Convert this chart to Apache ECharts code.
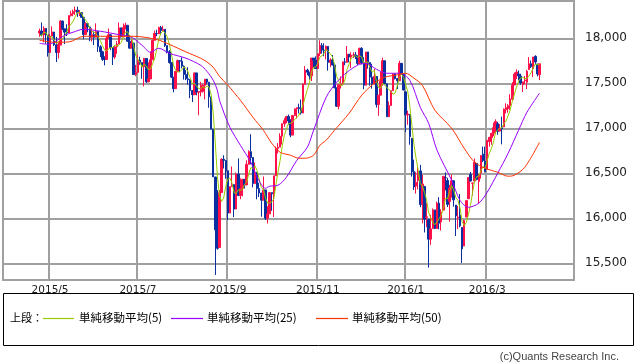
<!DOCTYPE html>
<html><head><meta charset="utf-8">
<script src="https://cdn.jsdelivr.net/npm/echarts@6/dist/echarts.min.js"></script>
<style>html,body{margin:0;padding:0;background:#fff}#c{width:638px;height:362px}</style>
</head><body><div id="c"></div>
<script>
const dates = ['2015/4/24','2015/4/27','2015/4/28','2015/4/29','2015/4/30',
'2015/5/1','2015/5/4','2015/5/5','2015/5/6','2015/5/7','2015/5/8','2015/5/11','2015/5/12','2015/5/13','2015/5/14','2015/5/15','2015/5/18','2015/5/19','2015/5/20','2015/5/21','2015/5/22','2015/5/26','2015/5/27','2015/5/28','2015/5/29',
'2015/6/1','2015/6/2','2015/6/3','2015/6/4','2015/6/5','2015/6/8','2015/6/9','2015/6/10','2015/6/11','2015/6/12','2015/6/15','2015/6/16','2015/6/17','2015/6/18','2015/6/19','2015/6/22','2015/6/23','2015/6/24','2015/6/25','2015/6/26','2015/6/29','2015/6/30',
'2015/7/1','2015/7/2','2015/7/6','2015/7/7','2015/7/8','2015/7/9','2015/7/10','2015/7/13','2015/7/14','2015/7/15','2015/7/16','2015/7/17','2015/7/20','2015/7/21','2015/7/22','2015/7/23','2015/7/24','2015/7/27','2015/7/28','2015/7/29','2015/7/30','2015/7/31',
'2015/8/3','2015/8/4','2015/8/5','2015/8/6','2015/8/7','2015/8/10','2015/8/11','2015/8/12','2015/8/13','2015/8/14','2015/8/17','2015/8/18','2015/8/19','2015/8/20','2015/8/21','2015/8/24','2015/8/25','2015/8/26','2015/8/27','2015/8/28','2015/8/31',
'2015/9/1','2015/9/2','2015/9/3','2015/9/4','2015/9/8','2015/9/9','2015/9/10','2015/9/11','2015/9/14','2015/9/15','2015/9/16','2015/9/17','2015/9/18','2015/9/21','2015/9/22','2015/9/23','2015/9/24','2015/9/25','2015/9/28','2015/9/29','2015/9/30',
'2015/10/1','2015/10/2','2015/10/5','2015/10/6','2015/10/7','2015/10/8','2015/10/9','2015/10/12','2015/10/13','2015/10/14','2015/10/15','2015/10/16','2015/10/19','2015/10/20','2015/10/21','2015/10/22','2015/10/23','2015/10/26','2015/10/27','2015/10/28','2015/10/29','2015/10/30',
'2015/11/2','2015/11/3','2015/11/4','2015/11/5','2015/11/6','2015/11/9','2015/11/10','2015/11/11','2015/11/12','2015/11/13','2015/11/16','2015/11/17','2015/11/18','2015/11/19','2015/11/20','2015/11/23','2015/11/24','2015/11/25','2015/11/27','2015/11/30',
'2015/12/1','2015/12/2','2015/12/3','2015/12/4','2015/12/7','2015/12/8','2015/12/9','2015/12/10','2015/12/11','2015/12/14','2015/12/15','2015/12/16','2015/12/17','2015/12/18','2015/12/21','2015/12/22','2015/12/23','2015/12/24','2015/12/28','2015/12/29','2015/12/30','2015/12/31',
'2016/1/4','2016/1/5','2016/1/6','2016/1/7','2016/1/8','2016/1/11','2016/1/12','2016/1/13','2016/1/14','2016/1/15','2016/1/19','2016/1/20','2016/1/21','2016/1/22','2016/1/25','2016/1/26','2016/1/27','2016/1/28','2016/1/29',
'2016/2/1','2016/2/2','2016/2/3','2016/2/4','2016/2/5','2016/2/8','2016/2/9','2016/2/10','2016/2/11','2016/2/12','2016/2/16','2016/2/17','2016/2/18','2016/2/19','2016/2/22','2016/2/23','2016/2/24','2016/2/25','2016/2/26','2016/2/29',
'2016/3/1','2016/3/2','2016/3/3','2016/3/4','2016/3/7','2016/3/8','2016/3/9','2016/3/10','2016/3/11','2016/3/14','2016/3/15','2016/3/16','2016/3/17','2016/3/18','2016/3/21','2016/3/22','2016/3/23','2016/3/24','2016/3/28','2016/3/29','2016/3/30','2016/3/31',
'2016/4/1','2016/4/4','2016/4/5','2016/4/6'];

const open = [18058,18080,18038,18110,18036,
17841,18024,18070,17928,17842,17924,18191,18105,18068,18060,18252,18272,18298,18312,18280,18285,18232,18041,18162,18126,
18011,18040,18011,18076,17905,17849,17766,17764,18000,18039,17898,17791,17905,17935,18116,18015,18120,18144,17966,17890,17947,17596,
17620,17758,17730,17684,17776,17515,17548,17760,17977,18053,18050,18120,18086,18100,17919,17851,17731,17568,17440,17631,17751,17745,
17690,17598,17550,17540,17419,17373,17615,17402,17403,17409,17477,17546,17512,17349,16990,16459,15872,15676,16285,16655,16643,
16528,16058,16351,16374,16102,16492,16254,16330,16433,16370,16599,16740,16675,16385,16511,16330,16280,16201,16315,16001,16049,
16285,16272,16472,16776,16790,16912,17050,17084,17131,17081,16924,17141,17216,17230,17217,17169,17489,17646,17623,17582,17780,17756,
17664,17829,17919,17868,17864,17910,17731,17759,17703,17449,17245,17484,17490,17738,17733,17824,17792,17813,17815,17798,
17720,17888,17730,17478,17848,17730,17568,17493,17575,17265,17368,17525,17750,17495,17128,17252,17418,17603,17553,17528,17721,17604,
17405,17147,17154,16889,16519,16358,16420,16526,16159,16354,16009,15989,15768,15885,16093,15886,16168,15960,16090,
16451,16420,16186,16329,16417,16147,16005,16035,15897,15691,16013,16217,16487,16389,16413,16610,16410,16502,16712,16634,
16545,16851,16896,16945,16991,17050,16969,17006,17014,17207,17217,17251,17321,17481,17590,17602,17580,17485,17527,17512,17652,17716,
17661,17799,17713,17594];

const close = [18080,18038,18110,18036,17841,
18024,18070,17928,17842,17924,18191,18105,18068,18060,18252,18272,18298,18312,18285,18285,18232,18041,18162,18126,18011,
18040,18011,18076,17905,17849,17766,17764,18000,18039,17898,17791,17905,17935,18116,18015,18120,18144,17966,17890,17947,17596,17620,
17758,17730,17684,17776,17515,17548,17760,17977,18053,18050,18120,18086,18100,17919,17851,17731,17568,17440,17631,17751,17745,17690,
17598,17550,17540,17419,17373,17615,17402,17403,17409,17477,17546,17512,17349,16990,16460,15871,15666,16285,16655,16643,16528,
16058,16351,16374,16102,16492,16254,16330,16433,16370,16599,16740,16675,16385,16511,16330,16280,16201,16315,16001,16049,16285,
16272,16472,16776,16790,16912,17050,17084,17131,17081,16924,17141,17216,17230,17217,17169,17489,17646,17623,17582,17780,17756,17664,
17829,17919,17868,17864,17910,17731,17759,17703,17449,17245,17484,17490,17738,17733,17824,17792,17813,17813,17798,17720,
17888,17730,17478,17848,17730,17568,17493,17575,17265,17368,17525,17750,17495,17128,17252,17418,17603,17553,17528,17721,17604,17425,
17149,17159,16907,16515,16347,16399,16516,16152,16380,15988,16016,15767,15883,16094,15886,16168,15945,16070,16466,
16450,16154,16337,16417,16205,16027,16014,15915,15660,15974,16196,16454,16414,16392,16620,16432,16485,16698,16640,16517,
16866,16900,16944,17007,17074,16964,17001,16996,17213,17230,17251,17326,17481,17602,17624,17583,17503,17516,17536,17634,17717,17685,
17792,17737,17603,17716];

const low = [18015,18020,17955,17940,17796,
17841,18024,17914,17736,17775,17924,18090,17935,18025,18060,18241,18245,18260,18237,18247,18225,17990,18041,18067,17967,
17964,17925,18011,17850,17792,17748,17699,17764,18000,17867,17703,17770,17827,17935,18008,18015,18098,17965,17888,17890,17593,17579,
17620,17705,17550,17466,17504,17515,17548,17760,17977,18023,18050,18045,18086,17903,17832,17718,17559,17400,17440,17631,17623,17666,
17541,17536,17483,17334,17291,17373,17366,17145,17354,17396,17321,17488,17228,16990,16459,15370,15651,15676,16285,16553,16440,
15980,16058,16351,16013,16102,16245,16212,16244,16331,16370,16599,16600,16343,16385,16211,16236,16017,16201,15981,15942,16049,
16083,16013,16472,16720,16790,16819,17016,17057,17040,16900,16924,17141,17107,17164,17151,17169,17489,17590,17540,17525,17676,17663,
17664,17801,17830,17800,17765,17640,17679,17699,17447,17238,17210,17441,17490,17700,17733,17731,17670,17781,17768,17704,
17720,17711,17434,17478,17662,17473,17440,17493,17230,17138,17368,17470,17493,17128,17128,17252,17418,17541,17437,17528,17600,17422,
16957,17039,16817,16463,16314,16274,16320,16123,15944,15842,15900,15451,15704,15885,15880,15886,15878,15863,16090,
16310,16125,15961,16228,16129,15803,15881,15899,15503,15691,16013,16217,16408,16252,16413,16423,16165,16440,16624,16510,
16545,16795,16817,16912,16936,16928,16966,16821,17014,17165,17173,17205,17300,17481,17547,17532,17484,17403,17490,17436,17652,17670,
17569,17706,17577,17535];

const high = [18107,18175,18133,18110,18036,
18050,18133,18070,18015,17950,18200,18196,18105,18156,18253,18305,18319,18351,18350,18314,18286,18232,18178,18162,18126,
18112,18074,18165,18076,17923,17861,17800,18018,18109,18039,17898,17919,17967,18175,18116,18164,18173,18144,18032,17986,17947,17704,
17817,17795,17730,17783,17776,17733,17852,17980,18085,18095,18129,18138,18138,18100,17922,17868,17733,17568,17631,17764,17752,17789,
17698,17646,17678,17547,17419,17615,17615,17409,17515,17496,17546,17546,17512,17349,16990,16459,16312,16313,16666,16700,16643,
16528,16351,16575,16374,16509,16664,16444,16434,16433,16644,16755,16933,16675,16619,16511,16395,16280,16465,16315,16134,16285,
16285,16472,16797,16835,16944,17051,17116,17139,17152,17100,17142,17220,17230,17273,17320,17500,17690,17662,17623,17780,17780,17799,
17829,17977,17947,17944,17920,17910,17778,17814,17703,17449,17484,17575,17738,17780,17914,17824,17844,17844,17848,17810,
17895,17901,17789,17848,17848,17730,17716,17659,17575,17370,17627,17784,17750,17495,17298,17418,17603,17606,17553,17750,17721,17604,
17405,17195,17154,16889,16651,16513,16591,16593,16482,16354,16171,15989,16038,16109,16093,16185,16235,16102,16466,
16510,16449,16371,16486,16417,16147,16136,16270,15897,15982,16196,16455,16514,16392,16664,16610,16485,16698,16796,16795,
16866,16900,16944,17063,17099,17072,17048,17130,17220,17277,17268,17379,17512,17620,17655,17642,17606,17516,17581,17648,17790,17753,
17793,17811,17713,17716];

// 5-day moving average, one value per trading day
const ma5 = [18032,18033,18065,18064,18021,18010,18016,17980,17941,17958,17991,17998,18026,18070,18135,18151,18190,18239,18284,18290,
18282,18231,18201,18169,18114,18076,18070,18053,18009,17976,17921,17872,17857,17884,17893,17898,17927,17914,17929,17952,
18018,18066,18072,18027,18013,17909,17804,17762,17730,17678,17714,17693,17651,17657,17715,17771,17878,17992,18057,18082,
18055,18015,17937,17834,17702,17644,17624,17627,17651,17683,17667,17625,17559,17496,17499,17470,17442,17440,17461,17447,
17469,17459,17375,17171,16836,16467,16254,16187,16224,16355,16434,16447,16391,16283,16275,16315,16310,16322,16376,16397,
16494,16563,16554,16582,16528,16436,16341,16327,16225,16169,16170,16184,16216,16371,16519,16644,16800,16922,16993,17052,
17054,17072,17099,17118,17146,17195,17264,17350,17429,17502,17624,17677,17681,17722,17790,17807,17829,17878,17858,17826,
17793,17710,17577,17528,17474,17481,17538,17654,17715,17780,17795,17808,17787,17806,17790,17723,17733,17735,17671,17623,
17643,17526,17454,17445,17497,17481,17453,17430,17409,17379,17391,17471,17565,17602,17566,17485,17412,17249,17031,16815,
16665,16537,16386,16359,16287,16210,16061,16007,15950,15929,15960,15995,16033,16107,16220,16217,16295,16365,16313,16228,
16200,16116,15964,15918,15952,16040,16140,16286,16415,16462,16469,16525,16575,16554,16641,16724,16773,16847,16958,16978,
16998,17008,17050,17081,17138,17203,17300,17378,17457,17523,17559,17566,17552,17554,17581,17618,17673,17713,17707,17707];

// 25- and 50-day averages read at sample days (index into dates)
const ma25At = [0,4,7,12,16,21,29,37,44,49,53,57,62,70,77,80,83,85,86,91,96,101,104,108,110,114,118,123,128,131,137,142,147,152,156,161,166,172,177,182,186,190,197,201,205,210,214,219,224,229,233,239];
const ma25 = [17944,17933,17956,18033,18067,18100,18078,18044,18011,17922,17844,17889,17833,17778,17700,17633,17533,17422,17311,17011,16811,16622,16456,16333,16356,16367,16456,16644,16789,16978,17344,17511,17622,17700,17722,17656,17611,17611,17533,17233,17056,16756,16422,16200,16122,16167,16289,16500,16722,16978,17178,17389];
const ma50At = [0,7,14,21,29,45,56,62,70,77,80,83,86,90,96,102,107,111,115,120,124,127,131,134,137,141,148,154,160,165,170,175,179,183,189,197,203,208,213,219,224,227,232,239];
const ma50 = [17978,17956,17959,18022,18022,18022,17986,17933,17848,17778,17737,17678,17578,17478,17311,17122,16978,16833,16733,16700,16667,16667,16700,16811,16867,16978,17167,17367,17500,17567,17589,17611,17556,17478,17200,17000,16778,16622,16556,16511,16467,16478,16567,16844];

const monthStarts = ['2015/5/1','2015/7/1','2015/9/1','2015/11/2','2016/1/4','2016/3/1'];
const monthLabels = ['2015/5','2015/7','2015/9','2015/11','2016/1','2016/3'];
const seriesNames = ['単純移動平均(5)','単純移動平均(25)','単純移動平均(50)'];
const seriesColors = ['#99cc00','#9900ff','#ff3300'];

const PADL = 17, PADR = 16;
const cats = [];
for (let i = 0; i < PADL; i++) cats.push('L' + i);
dates.forEach(d => cats.push(d));
for (let i = 0; i < PADR; i++) cats.push('R' + i);

const candles = [];
for (let i = 0; i < PADL; i++) candles.push('-');
dates.forEach((d, i) => candles.push([open[i], close[i], low[i], high[i]]));
for (let i = 0; i < PADR; i++) candles.push('-');

const ma5Data = ma5.map((v, i) => [i + PADL, v]);
const ma25Data = ma25.map((v, i) => [ma25At[i] + PADL, v]);
const ma50Data = ma50.map((v, i) => [ma50At[i] + PADL, v]);

const isMonth = (i, v) => monthStarts.indexOf(v) >= 0;
const chart = echarts.init(document.getElementById('c'), null, {renderer: 'canvas'});
const lineBase = {type: 'line', showSymbol: false, symbol: 'none', lineStyle: {width: 1}, animation: false, z: 3};
chart.setOption({
  animation: false,
  backgroundColor: '#fff',
  grid: {left: 3, right: 64, top: 1, bottom: 82, show: true, borderColor: '#a0a0a0', borderWidth: 2, containLabel: false},
  xAxis: {
    type: 'category', data: cats, boundaryGap: true,
    axisLine: {show: false}, axisTick: {show: false},
    axisLabel: {interval: isMonth, formatter: v => monthLabels[monthStarts.indexOf(v)] || '',
      fontSize: 10.5, color: '#222', margin: 5, fontFamily: 'DejaVu Sans', hideOverlap: false},
    splitLine: {show: true, interval: isMonth, lineStyle: {color: '#a0a0a0', width: 2}}
  },
  yAxis: {
    type: 'value', position: 'right', min: 15314, max: 18414, scale: true,
    axisLine: {show: false}, axisTick: {show: false},
    axisLabel: {formatter: v => (v % 500 === 0 ? v.toLocaleString('en-US') : ''), fontSize: 12, color: '#222', margin: 11, fontFamily: 'DejaVu Sans'},
    splitLine: {lineStyle: {color: '#a0a0a0', width: 2}}
  },
  series: [
    {type: 'candlestick', data: candles, barWidth: 2, clip: true, z: 2,
      itemStyle: {color: '#ff1048', color0: '#0a30a0', borderColor: '#ff1048', borderColor0: '#0a30a0', borderWidth: 1}},
    Object.assign({}, lineBase, {name: seriesNames[0], data: ma5Data, lineStyle: {width: 1, color: seriesColors[0]}}),
    Object.assign({}, lineBase, {name: seriesNames[1], data: ma25Data, smooth: 0.3, lineStyle: {width: 1, color: seriesColors[1]}}),
    Object.assign({}, lineBase, {name: seriesNames[2], data: ma50Data, smooth: 0.3, lineStyle: {width: 1, color: seriesColors[2]}})
  ],
  graphic: [
    {type: 'rect', shape: {x: 3.5, y: 293.5, width: 630, height: 52}, style: {fill: 'none', stroke: '#000', lineWidth: 1}},
    {type: 'text', x: 10, y: 318, style: {text: '上段：', font: '11px "Noto Sans CJK JP"', fill: '#000', verticalAlign: 'middle'}},
    {type: 'line', shape: {x1: 43, y1: 318.5, x2: 74, y2: 318.5}, style: {stroke: seriesColors[0], lineWidth: 1.2}},
    {type: 'text', x: 79, y: 318, style: {text: seriesNames[0], font: '11.5px "Noto Sans CJK JP"', fill: '#000', verticalAlign: 'middle'}},
    {type: 'line', shape: {x1: 171, y1: 318.5, x2: 203, y2: 318.5}, style: {stroke: seriesColors[1], lineWidth: 1.2}},
    {type: 'text', x: 207, y: 318, style: {text: seriesNames[1], font: '11.5px "Noto Sans CJK JP"', fill: '#000', verticalAlign: 'middle'}},
    {type: 'line', shape: {x1: 316, y1: 318.5, x2: 348, y2: 318.5}, style: {stroke: seriesColors[2], lineWidth: 1.2}},
    {type: 'text', x: 352, y: 318, style: {text: seriesNames[2], font: '11.5px "Noto Sans CJK JP"', fill: '#000', verticalAlign: 'middle'}},
    {type: 'text', x: 619, y: 357, style: {text: '(c)Quants Research Inc.', font: '11px "Liberation Sans"', fill: '#444', align: 'right', verticalAlign: 'middle'}}
  ]
});
</script></body></html>
